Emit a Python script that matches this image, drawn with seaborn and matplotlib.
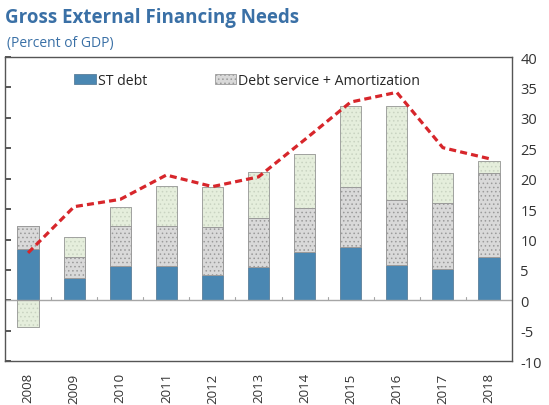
import numpy as np
import pandas as pd
import matplotlib
matplotlib.use("Agg")
import matplotlib.pyplot as plt
import seaborn as sns
from matplotlib.patches import Patch

years = ["2008", "2009", "2010", "2011", "2012", "2013", "2014", "2015", "2016", "2017", "2018"]
st_debt = [8.4, 3.7, 5.6, 5.6, 4.1, 5.4, 8.0, 8.7, 5.8, 5.2, 7.1]
debt_service = [3.8, 3.4, 6.6, 6.6, 8.0, 8.1, 7.1, 10.0, 10.7, 10.8, 13.9]
other = [-4.4, 3.3, 3.2, 6.6, 6.5, 7.6, 9.0, 13.3, 15.4, 4.9, 1.9]
gross_needs = [7.8, 15.4, 16.6, 20.6, 18.7, 20.3, 26.4, 32.6, 34.2, 25.1, 23.3]
y_ticks = [-10, -5, 0, 5, 10, 15, 20, 25, 30, 35, 40]

sns.set_theme(style="white")
plt.rcParams["font.family"] = ["Open Sans", "DejaVu Sans"]
plt.rcParams["hatch.linewidth"] = 0.6

df = pd.DataFrame({"year": years, "st": st_debt, "ds": debt_service,
                   "other": other, "line": gross_needs})
st_arr = np.array(st_debt)
ds_arr = np.array(debt_service)
oth_arr = np.array(other)
# a negative residual is drawn downward from zero
other_bottom = np.where(oth_arr < 0, 0, st_arr + ds_arr)

fig = plt.figure(figsize=(5.49, 4.06), dpi=100)
ax = fig.add_axes([0.0091, 0.108, 0.9235, 0.749])

BLUE = "#4a87b2"
GREY = "#d9d9d9"
GREEN = "#e5eedc"

sns.barplot(data=df, x="year", y="st", color=BLUE, saturation=1, width=0.46,
            edgecolor="#5a7f99", linewidth=0.6, ax=ax)
sns.barplot(data=df, x="year", y="ds", bottom=st_arr, color=GREY, saturation=1,
            width=0.46, edgecolor="#9a9a9a", linewidth=0.6, hatch="....", ax=ax)
sns.barplot(data=df, x="year", y="other", bottom=other_bottom, color=GREEN,
            saturation=1, width=0.46, edgecolor="#c9d3c1", linewidth=0.6,
            hatch="....", ax=ax)
# thin grey outline around the patterned segments
for i, p in enumerate(ax.patches):
    if i >= len(years):
        ax.add_patch(plt.Rectangle((p.get_x(), p.get_y()), p.get_width(), p.get_height(),
                                   fill=False, edgecolor="#9a9a9a", linewidth=0.6,
                                   zorder=p.get_zorder() + 0.1))

sns.lineplot(data=df, x="year", y="line", color="#d7262b", linewidth=2.3,
             linestyle=(0, (2.2, 1.3)), sort=False, ax=ax, zorder=5)

ax.axhline(0, color="#a6a6a6", linewidth=1.0, zorder=1)
for k in range(len(years) - 1):
    ax.plot([k + 0.5, k + 0.5], [0, 0.6], color="#a6a6a6", linewidth=0.8, zorder=1)

ax.set_xlim(-0.5, len(years) - 0.5)
ax.set_ylim(-10, 40)
ax.set_yticks(y_ticks)
ax.set_yticklabels([str(v) for v in y_ticks])
ax.set_xlabel("")
ax.set_ylabel("")
ax.tick_params(axis="y", left=True, right=False, labelleft=False, labelright=True,
               direction="in", length=4, color="#404040", labelsize=10.5,
               labelcolor="#333333", pad=6)
ax.tick_params(axis="x", bottom=False, labelbottom=True, labelsize=9.5,
               labelcolor="#333333", pad=2, labelrotation=90)
for s in ax.spines.values():
    s.set_visible(True)
    s.set_color("#555555")
    s.set_linewidth(1.0)

handles = [Patch(facecolor=BLUE, edgecolor="#5a7f99", linewidth=0.6),
           Patch(facecolor=GREY, edgecolor="#9a9a9a", linewidth=0.6, hatch="....")]
ax.legend(handles, ["ST debt", "Debt service + Amortization"], loc="upper center",
          bbox_to_anchor=(0.478, 0.99), ncol=2, frameon=False, fontsize=10.2,
          handlelength=1.5, handleheight=0.65, handletextpad=0.15,
          columnspacing=4.8)

fig.text(0.009, 0.955, "Gross External Financing Needs", fontsize=13.5,
         fontweight="bold", color="#3a70a6", ha="left", va="center")
fig.text(0.012, 0.893, "(Percent of GDP)", fontsize=10, color="#3a70a6",
         ha="left", va="center")

fig.savefig("out.png", dpi=100)
